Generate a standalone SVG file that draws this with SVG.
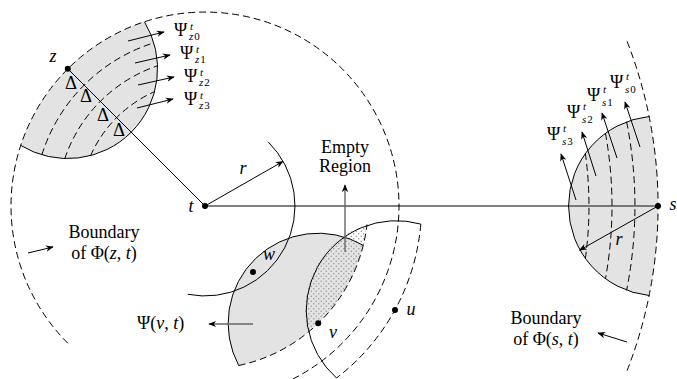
<svg xmlns="http://www.w3.org/2000/svg" width="677" height="379" viewBox="0 0 677 379">
<style>
.txt{font-family:"Liberation Serif","Times New Roman",serif;font-size:18px;fill:#000}
.it{font-style:italic}
.sub{font-size:11px}
.grey{fill:#e3e3e3;stroke:none}
.sol{fill:none;stroke:#000;stroke-width:1}
.dash{fill:none;stroke:#000;stroke-width:1;stroke-dasharray:7 4}
.arr{fill:none;stroke:#000;stroke-width:1;marker-end:url(#ah)}
.garr{fill:none;stroke:#666;stroke-width:1.4;marker-end:url(#ah)}
.pt{fill:#000}
</style>
<defs>
<marker id="ah" viewBox="0 0 10 10" refX="9" refY="5" markerWidth="8" markerHeight="8" markerUnits="userSpaceOnUse" orient="auto">
<path d="M0,1 L10,5 L0,9 L3,5 Z" fill="#000"/>
</marker>
<pattern id="dots" width="5" height="5" patternUnits="userSpaceOnUse">
<circle cx="1.25" cy="1.25" r="0.8" fill="#9a9a9a"/>
<circle cx="3.75" cy="3.75" r="0.8" fill="#9a9a9a"/>
</pattern>
</defs>

<g id="regions">
<path id="lens-z" class="grey" d="M144.4,21.7 A90,90 0 0 1 20.7,145.4 A194,194 0 0 1 144.4,21.7 Z"/>
<path id="lens-s" class="grey" d="M649.1,116.5 A90,90 0 0 0 649.1,295.5 A453,453 0 0 0 649.1,116.5 Z"/>
<path id="lens-v" class="grey" d="M238.7,365.5 A90,90 0 0 1 363.2,245.3 A163,163 0 0 1 238.7,365.5 Z"/>
<path id="empty-region" fill="url(#dots)" d="M307.8,332.5 A90,90 0 0 1 367,224.5 A163,163 0 0 1 307.8,332.5 Z"/>
</g>

<g id="connectors">
<line x1="67.8" y1="68.8" x2="205" y2="206" class="sol"/>
<line x1="205" y1="206" x2="658" y2="206" stroke="#555" stroke-width="1.3"/>
<path class="dash" d="M67.8,343.2 A194,194 0 1 1 293.1,378.9"/>
<path class="dash" d="M627.1,41.4 A453,453 0 0 1 627.1,370.6"/>
<path class="dash" d="M238.7,365.5 A163,163 0 0 0 367,224.5"/>
<path class="dash" d="M420.8,224.1 A216.6,216.6 0 0 1 336.5,378"/>
<path class="dash" d="M41.8,155 A171,171 0 0 1 154,42.8"/>
<path class="dash" d="M64.7,158.8 A148,148 0 0 1 157.8,65.7"/>
<path class="dash" d="M90.5,155.9 A125,125 0 0 1 154.9,91.5"/>
<path class="dash" d="M626.6,121.7 A430,430 0 0 1 626.6,290.3"/>
<path class="dash" d="M605.4,133 A407,407 0 0 1 605.4,279"/>
<path class="dash" d="M585.3,153 A384,384 0 0 1 585.3,259"/>
<path class="sol" d="M144.4,21.7 A90,90 0 0 1 20.7,145.4"/>
<path class="sol" d="M649.1,116.5 A90,90 0 0 0 649.1,295.5"/>
<path class="sol" d="M268.2,141.9 A90,90 0 0 1 187.8,294.3"/>
<path class="sol" d="M238.7,365.5 A90,90 0 0 1 363.2,245.3"/>
<path class="sol" d="M336.5,378 A90,90 0 0 1 420.8,224.1"/>
<line x1="205" y1="206" x2="283" y2="161.4" class="arr"/>
<line x1="658" y1="206" x2="579.6" y2="250.2" class="arr"/>
<line x1="128" y1="41" x2="164" y2="32" class="arr"/>
<line x1="135" y1="63" x2="170" y2="55" class="arr"/>
<line x1="138" y1="85" x2="174" y2="77" class="arr"/>
<line x1="137" y1="108" x2="173" y2="99" class="arr"/>
<line x1="640" y1="147" x2="625" y2="102" class="arr"/>
<line x1="617" y1="158" x2="602" y2="113" class="arr"/>
<line x1="596" y1="176" x2="582" y2="132" class="arr"/>
<line x1="576" y1="200" x2="561" y2="154" class="arr"/>
<line x1="28" y1="253" x2="53" y2="247" class="arr"/>
<line x1="627" y1="342" x2="598" y2="333" class="arr"/>
<line x1="345" y1="252" x2="345" y2="185" class="garr"/>
<line x1="253" y1="324" x2="209" y2="324" class="garr"/>
</g>

<g id="node-z">
<circle cx="67.8" cy="68.8" r="3" class="pt"/>
<text x="53" y="62" class="txt it" text-anchor="middle">z</text>
</g>
<g id="node-t">
<circle cx="205" cy="206" r="3" class="pt"/>
<text x="191" y="212" class="txt it" text-anchor="middle">t</text>
<text x="243" y="174" class="txt it" text-anchor="middle">r</text>
</g>
<g id="node-s">
<circle cx="658" cy="206" r="3" class="pt"/>
<text x="673" y="210" class="txt it" text-anchor="middle">s</text>
<text x="619" y="245" class="txt it" text-anchor="middle">r</text>
</g>
<g id="node-w">
<circle cx="253" cy="272" r="3" class="pt"/>
<text x="269" y="260" class="txt it" text-anchor="middle">w</text>
</g>
<g id="node-v">
<circle cx="318.2" cy="323.3" r="3" class="pt"/>
<text x="333" y="338" class="txt it" text-anchor="middle">v</text>
</g>
<g id="node-u">
<circle cx="395" cy="310" r="3" class="pt"/>
<text x="411" y="315" class="txt it" text-anchor="middle">u</text>
</g>

<g id="triangles" class="txt" font-size="14">
<text x="65" y="89" textLength="12" lengthAdjust="spacingAndGlyphs">Δ</text>
<text x="80" y="102" textLength="12" lengthAdjust="spacingAndGlyphs">Δ</text>
<text x="97" y="121" textLength="12" lengthAdjust="spacingAndGlyphs">Δ</text>
<text x="113" y="136" textLength="12" lengthAdjust="spacingAndGlyphs">Δ</text>
</g>

<g id="labels-z" class="txt">
<text x="174" y="36">Ψ</text><text x="190" y="29.5" class="sub it">t</text><text x="189" y="40" class="sub"><tspan class="it">z</tspan><tspan dx="1">0</tspan></text>
<text x="180" y="59">Ψ</text><text x="196" y="52.5" class="sub it">t</text><text x="195" y="63" class="sub"><tspan class="it">z</tspan><tspan dx="1">1</tspan></text>
<text x="184" y="82">Ψ</text><text x="200" y="75.5" class="sub it">t</text><text x="199" y="86" class="sub"><tspan class="it">z</tspan><tspan dx="1">2</tspan></text>
<text x="184" y="105">Ψ</text><text x="200" y="98.5" class="sub it">t</text><text x="199" y="109" class="sub"><tspan class="it">z</tspan><tspan dx="1">3</tspan></text>
</g>
<g id="labels-s" class="txt">
<text x="610" y="88">Ψ</text><text x="626" y="80" class="sub it">t</text><text x="625" y="93" class="sub"><tspan class="it">s</tspan><tspan dx="1">0</tspan></text>
<text x="587" y="101">Ψ</text><text x="603" y="93" class="sub it">t</text><text x="602" y="106" class="sub"><tspan class="it">s</tspan><tspan dx="1">1</tspan></text>
<text x="567" y="118">Ψ</text><text x="583" y="110" class="sub it">t</text><text x="582" y="123" class="sub"><tspan class="it">s</tspan><tspan dx="1">2</tspan></text>
<text x="547" y="140">Ψ</text><text x="563" y="132" class="sub it">t</text><text x="562" y="145" class="sub"><tspan class="it">s</tspan><tspan dx="1">3</tspan></text>
</g>

<g id="label-boundary-z" class="txt" text-anchor="middle">
<text x="104" y="238">Boundary</text>
<text x="104" y="259">of Φ(<tspan class="it">z</tspan>, <tspan class="it">t</tspan>)</text>
</g>
<g id="label-boundary-s" class="txt" text-anchor="middle">
<text x="546" y="324">Boundary</text>
<text x="546" y="345">of Φ(<tspan class="it">s</tspan>, <tspan class="it">t</tspan>)</text>
</g>
<g id="label-empty" class="txt" text-anchor="middle">
<text x="345" y="153">Empty</text>
<text x="345" y="172">Region</text>
</g>
<g id="label-psi-v" class="txt">
<text x="137" y="329">Ψ(<tspan class="it">v</tspan>, <tspan class="it">t</tspan>)</text>
</g>
</svg>
